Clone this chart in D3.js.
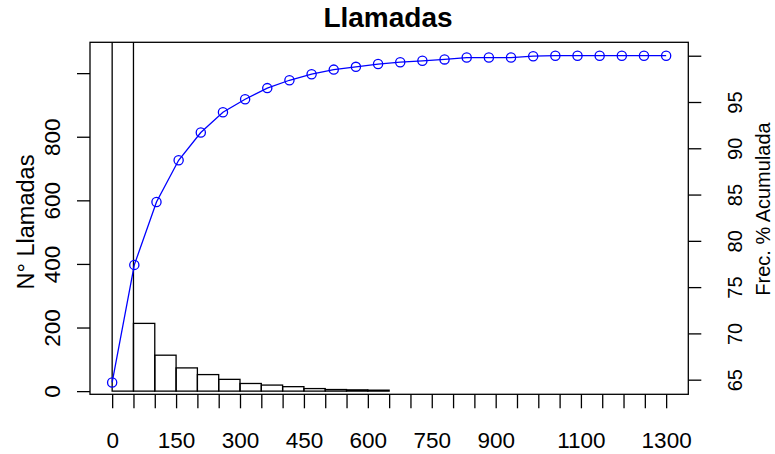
<!DOCTYPE html>
<html>
<head>
<meta charset="utf-8">
<script src="https://cdn.jsdelivr.net/npm/d3@7"></script>
<style>
  body { margin: 0; background: #fff; }
  svg { display: block; }
  text { font-family: "Liberation Sans", Arial, Helvetica, sans-serif; fill: #000; }
</style>
</head>
<body>
<svg id="chart" width="775" height="454"></svg>
<script>
// Histogram bins (call duration), counts per bin and cumulative percentage
const binEdges = [0, 50, 100, 150, 200, 250, 300, 350, 400, 450, 500, 550, 600, 650,
                  700, 750, 800, 850, 900, 950, 1000, 1050, 1100, 1150, 1200, 1250, 1300];
const callCounts = [1110, 213, 113, 73, 52, 37, 24, 19, 14, 8, 5, 4, 3,
                    0, 0, 0, 0, 0, 0, 0, 0, 0, 0, 0, 0, 0];
const cumulativePct = [64.7, 77.4, 84.2, 88.7, 91.7, 93.9, 95.3, 96.5, 97.35, 98.0, 98.5, 98.8, 99.1,
                       99.3, 99.45, 99.6, 99.8, 99.8, 99.8, 99.95, 100, 100, 100, 100, 100, 100];

// Axis ticks and the labels that are printed
const xTickValues = [0, 50, 100, 150, 200, 250, 300, 350, 400, 450, 500, 550, 600, 650,
                     700, 750, 800, 850, 900, 950, 1000, 1050, 1100, 1150, 1200, 1250, 1300];
const xTickLabels = [0, 150, 300, 450, 600, 750, 900, 1100, 1300];
const countTickValues = [0, 200, 400, 600, 800, 1000];
const countTickLabels = [0, 200, 400, 600, 800];
const pctTickValues = [65, 70, 75, 80, 85, 90, 95, 100];
const pctTickLabels = [65, 70, 75, 80, 85, 90, 95];

const box = { left: 90, right: 688.3, top: 42.3, bottom: 394.3 };
const svg = d3.select("#chart");

// Scales: histogram x, line x (by bin index), counts (left), cumulative % (right)
const x = d3.scaleLinear().domain([-52, 1352]).range([box.left, box.right]);
const xLine = d3.scaleLinear().domain([0, cumulativePct.length + 1]).range([box.left, box.right]);
const yCount = d3.scaleLinear().domain([-10, 1097]).range([box.bottom, box.top]);
const yPct = d3.scaleLinear().domain([63.42, 101.45]).range([box.bottom, box.top]);

svg.append("defs").append("clipPath").attr("id", "plotClip")
  .append("rect")
  .attr("x", box.left).attr("y", box.top)
  .attr("width", box.right - box.left).attr("height", box.bottom - box.top);

// Histogram bars
svg.append("g").attr("clip-path", "url(#plotClip)")
  .selectAll("rect").data(callCounts).join("rect")
  .attr("x", (d, i) => x(binEdges[i]))
  .attr("width", (d, i) => x(binEdges[i + 1]) - x(binEdges[i]))
  .attr("y", d => yCount(d))
  .attr("height", d => yCount(0) - yCount(d))
  .attr("fill", "none")
  .attr("stroke", "#000")
  .attr("stroke-width", 1.3);

// Cumulative percentage line with open circles
const line = d3.line().x((d, i) => xLine(i + 1)).y(d => yPct(d));
svg.append("path").datum(cumulativePct)
  .attr("d", line)
  .attr("fill", "none")
  .attr("stroke", "#0000ff")
  .attr("stroke-width", 1.3);
svg.append("g").selectAll("circle").data(cumulativePct).join("circle")
  .attr("cx", (d, i) => xLine(i + 1))
  .attr("cy", d => yPct(d))
  .attr("r", 4.6)
  .attr("fill", "none")
  .attr("stroke", "#0000ff")
  .attr("stroke-width", 1.3);

// Plot frame
svg.append("rect")
  .attr("x", box.left).attr("y", box.top)
  .attr("width", box.right - box.left).attr("height", box.bottom - box.top)
  .attr("fill", "none").attr("stroke", "#000").attr("stroke-width", 1.3);

function styleAxis(g) {
  g.select(".domain").remove();
  g.selectAll(".tick line").attr("stroke", "#000").attr("stroke-width", 1.3);
  g.selectAll(".tick text").attr("fill", "#000");
}

// Bottom axis
const xAxis = d3.axisBottom(x)
  .tickValues(xTickValues)
  .tickSize(14)
  .tickPadding(0)
  .tickFormat(d => xTickLabels.includes(d) ? String(d) : "");
svg.append("g")
  .attr("transform", `translate(0,${box.bottom})`)
  .call(xAxis)
  .call(styleAxis)
  .call(g => g.selectAll(".tick text")
    .attr("y", 54).attr("dy", 0)
    .style("font-size", "22.5px"));

// Left axis (counts), labels parallel to the axis
const yAxisLeft = d3.axisLeft(yCount)
  .tickValues(countTickValues)
  .tickSize(13)
  .tickFormat(d => countTickLabels.includes(d) ? String(d) : "");
svg.append("g")
  .attr("transform", `translate(${box.left},0)`)
  .call(yAxisLeft)
  .call(styleAxis)
  .call(g => g.selectAll(".tick text")
    .attr("x", 0).attr("y", 0).attr("dy", 0)
    .attr("text-anchor", "middle")
    .attr("transform", "translate(-30,0) rotate(-90)")
    .style("font-size", "22.5px"));

// Right axis (cumulative %), labels parallel to the axis
const yAxisRight = d3.axisRight(yPct)
  .tickValues(pctTickValues)
  .tickSize(13)
  .tickFormat(d => pctTickLabels.includes(d) ? String(d) : "");
svg.append("g")
  .attr("transform", `translate(${box.right},0)`)
  .call(yAxisRight)
  .call(styleAxis)
  .call(g => g.selectAll(".tick text")
    .attr("x", 0).attr("y", 0).attr("dy", 0)
    .attr("text-anchor", "middle")
    .attr("transform", "translate(53.5,0) rotate(-90)")
    .style("font-size", "20px"));

// Titles
svg.append("text")
  .attr("x", 388).attr("y", 27)
  .attr("text-anchor", "middle")
  .style("font-size", "28px").style("font-weight", "bold")
  .text("Llamadas");

svg.append("text")
  .attr("transform", "translate(33.5,222) rotate(-90)")
  .attr("text-anchor", "middle")
  .style("font-size", "23.5px")
  .text("N° Llamadas");

svg.append("text")
  .attr("transform", "translate(770,209) rotate(-90)")
  .attr("text-anchor", "middle")
  .style("font-size", "20px")
  .text("Frec. % Acumulada");
</script>
</body>
</html>
